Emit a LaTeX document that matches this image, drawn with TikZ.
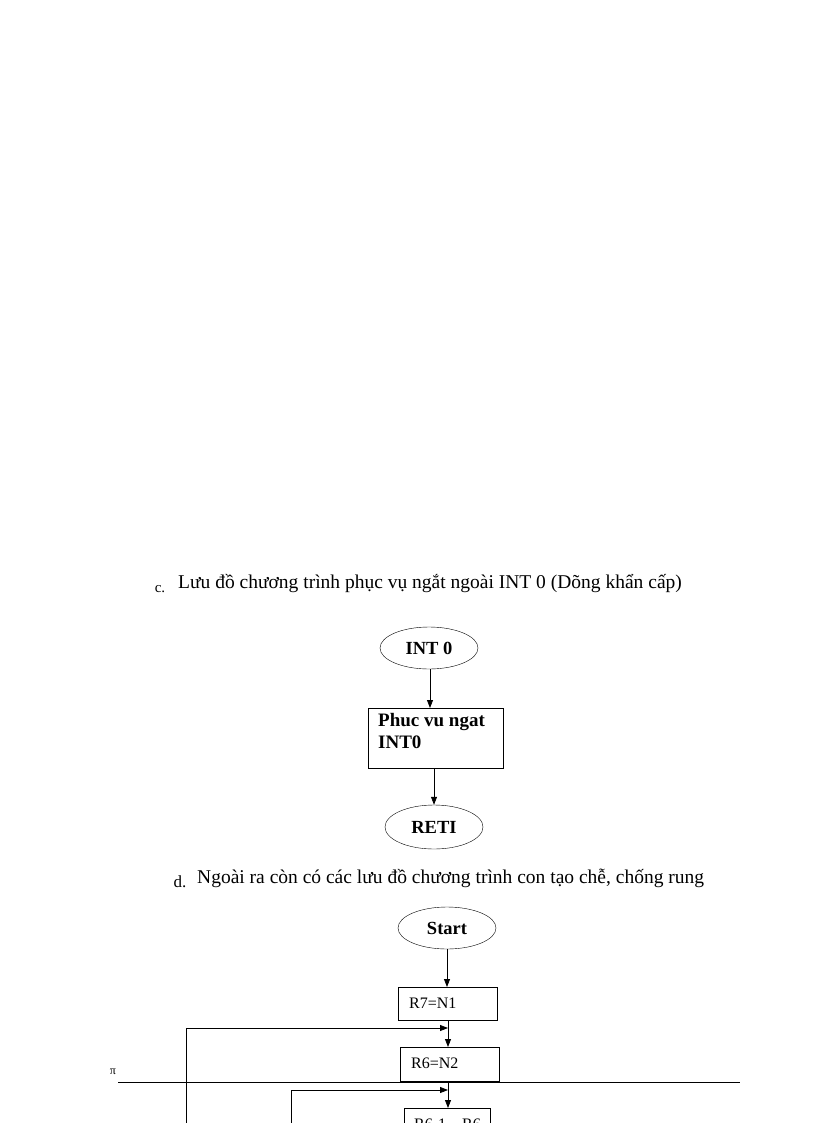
\documentclass[tikz,border=0pt]{standalone}
\usepackage{fontspec}
\setmainfont{Liberation Serif}
\usetikzlibrary{shapes.geometric,arrows.meta}
\begin{document}
\begin{tikzpicture}[x=1pt,y=-1pt,
  every node/.style={inner sep=0pt},
  oval/.style={draw,ellipse,minimum width=98pt,minimum height=42pt,font=\bfseries\fontsize{18.5}{20}\selectfont},
  proc/.style={draw,rectangle},
  arr/.style={-{Triangle[length=8pt,width=6pt]},line width=0.8pt},
  ln/.style={line width=0.8pt}]
\useasboundingbox (0,0) rectangle (816,1123);
\clip (0,0) rectangle (816,1123);
\node[font=\fontsize{15}{17}\selectfont] (lc) at (160,589) {c.};
\node[anchor=west,font=\fontsize{19.5}{21}\selectfont] (tc) at (178,584) {Lưu đồ chương trình phục vụ ngắt ngoài INT 0 (Dõng khẩn cấp)};
\node[oval] (int) at (429,648) {INT 0};
\node[proc,minimum width=135pt,minimum height=60pt,anchor=north west] (pv) at (368,708) {};
\node[anchor=north west,align=left,font=\bfseries\fontsize{19}{22}\selectfont] (pvt) at (378,713) {Phuc vu ngat\\INT0};
\node[oval,minimum height=44pt] (reti) at (434,827) {RETI};
\draw[arr] (int.south -| 430,0) -- (430,708);
\draw[arr] (434,768) -- (reti.north);
\node[font=\fontsize{17}{19}\selectfont] (ld) at (180,882) {d.};
\node[anchor=west,font=\fontsize{19.5}{21}\selectfont] (td) at (197,878) {Ngoài ra còn có các lưu đồ chương trình con tạo chễ, chống rung};
\node[oval] (st) at (447,928) {Start};
\node[proc,minimum width=99pt,minimum height=33pt,anchor=north west] (r7) at (398,987) {};
\node[anchor=west,font=\fontsize{16}{18}\selectfont] at (409,1003) {R7=N1};
\node[proc,minimum width=99pt,minimum height=34pt,anchor=north west] (r6) at (400,1047) {};
\node[anchor=west,font=\fontsize{16}{18}\selectfont] at (411,1063) {R6=N2};
\node[proc,minimum width=86pt,minimum height=30pt,anchor=north west] (r61) at (404,1108) {};
\node[anchor=west,font=\fontsize{16}{18}\selectfont] at (414,1124) {R6-1→R6};
\draw[arr] (st.south) -- (447,987);
\draw[arr] (448,1020) -- (448,1047);
\draw[arr] (448,1081) -- (448,1108);
\coordinate (l1) at (186,1123);
\coordinate (l2) at (291,1123);
\draw[ln] (l1) -- (186,1028);
\draw[arr] (186,1028) -- (448,1028);
\draw[ln] (l2) -- (291,1090);
\draw[arr] (291,1090) -- (448,1090);
\draw[ln] (118,1082) -- (740,1082);
\node[font=\fontsize{12}{13}\selectfont] (pi) at (113,1072) {π};
\end{tikzpicture}
\end{document}
